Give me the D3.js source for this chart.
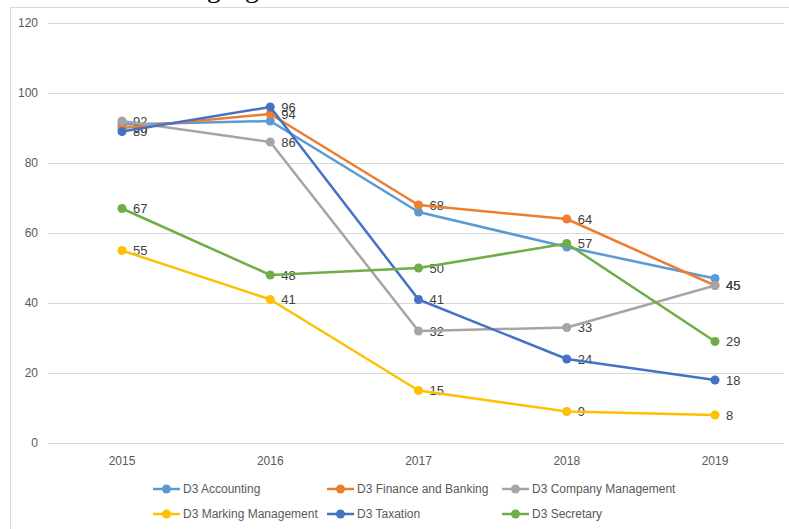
<!DOCTYPE html>
<html>
<head>
<meta charset="utf-8">
<script src="https://cdn.jsdelivr.net/npm/d3@7"></script>
<style>
  body { margin: 0; background: #fff; }
  svg { display: block; }
</style>
</head>
<body>
<script>
// chart values
var years = ["2015", "2016", "2017", "2018", "2019"];
var seriesNames = ["D3 Accounting", "D3 Finance and Banking", "D3 Company Management",
                   "D3 Marking Management", "D3 Taxation", "D3 Secretary"];
var accounting = [91, 92, 66, 56, 47];
var finance    = [90, 94, 68, 64, 45];
var company    = [92, 86, 32, 33, 45];
var marking    = [55, 41, 15, 9, 8];
var taxation   = [89, 96, 41, 24, 18];
var secretary  = [67, 48, 50, 57, 29];
var yTicks = [0, 20, 40, 60, 80, 100, 120];
// series that carry data labels in the original
var labelled = ["D3 Finance and Banking", "D3 Company Management",
                "D3 Marking Management", "D3 Taxation", "D3 Secretary"];

var colors = ["#5B9BD5", "#ED7D31", "#A5A5A5", "#FFC000", "#4472C4", "#70AD47"];
var allValues = [accounting, finance, company, marking, taxation, secretary];

var series = seriesNames.map(function(n, i) {
    return { name: n, color: colors[i], values: allValues[i] };
});

var W = 789, H = 529;
var font = "Liberation Sans, Arial, sans-serif";

var svg = d3.select("body")
            .append("svg")
            .attr("width", W)
            .attr("height", H);

// cut-off line of text above the chart (only its lower edge shows)
svg.append("text")
    .attr("x", 42)
    .attr("y", -3)
    .attr("font-family", "Liberation Serif, Times New Roman, serif")
    .attr("font-size", "28px")
    .attr("fill", "#000")
    .text("in the following figure:");

// chart frame
svg.append("rect")
    .attr("x", 10.5)
    .attr("y", 7.5)
    .attr("width", 790)
    .attr("height", 540)
    .style("fill", "#fff")
    .style("stroke", "#D9D9D9")
    .style("stroke-width", 1);

var x = d3.scalePoint()
    .domain(years)
    .range([122, 715]);

var y = d3.scaleLinear()
    .domain([0, 120])
    .range([443, 23]);

// gridlines
svg.selectAll("line.grid")
    .data(yTicks)
    .enter()
    .append("line")
    .attr("class", "grid")
    .attr("x1", 48)
    .attr("x2", 784)
    .attr("y1", function(d) { return Math.round(y(d)) + 0.5; })
    .attr("y2", function(d) { return Math.round(y(d)) + 0.5; })
    .style("stroke", "#D9D9D9")
    .style("stroke-width", 1);

// y labels
svg.selectAll("text.ylab")
    .data(yTicks)
    .enter()
    .append("text")
    .attr("class", "ylab")
    .attr("x", 38)
    .attr("y", function(d) { return y(d); })
    .attr("dy", "0.35em")
    .attr("text-anchor", "end")
    .attr("font-family", font)
    .attr("font-size", "12px")
    .attr("fill", "#595959")
    .text(function(d) { return d; });

// x labels
svg.selectAll("text.xlab")
    .data(years)
    .enter()
    .append("text")
    .attr("class", "xlab")
    .attr("x", function(d) { return x(d); })
    .attr("y", 461)
    .attr("dy", "0.35em")
    .attr("text-anchor", "middle")
    .attr("font-family", font)
    .attr("font-size", "12px")
    .attr("fill", "#595959")
    .text(function(d) { return d; });

// data labels (under the lines, as in the picture)
series.forEach(function(s) {
    if (labelled.indexOf(s.name) < 0) return;
    svg.append("g")
        .selectAll("text")
        .data(s.values)
        .enter()
        .append("text")
        .attr("x", function(d, i) { return x(years[i]) + 11; })
        .attr("y", function(d) { return y(d); })
        .attr("dy", "0.35em")
        .attr("font-family", font)
        .attr("font-size", "13px")
        .attr("fill", "#404040")
        .text(function(d) { return d; });
});

var line = d3.line()
    .x(function(d, i) { return x(years[i]); })
    .y(function(d) { return y(d); });

series.forEach(function(s) {
    var g = svg.append("g");
    g.append("path")
        .datum(s.values)
        .attr("d", line)
        .style("fill", "none")
        .style("stroke", s.color)
        .style("stroke-width", 2.5)
        .style("stroke-linejoin", "round");
    g.selectAll("circle")
        .data(s.values)
        .enter()
        .append("circle")
        .attr("cx", function(d, i) { return x(years[i]); })
        .attr("cy", function(d) { return y(d); })
        .attr("r", 4.5)
        .style("fill", s.color);
});

// legend, two rows of three
var legendX = [153, 327, 502];
var legendY = [489, 514];

var legend = svg.selectAll("g.legend")
    .data(series)
    .enter()
    .append("g")
    .attr("class", "legend")
    .attr("transform", function(d, i) {
        return "translate(" + legendX[i % 3] + "," + legendY[Math.floor(i / 3)] + ")";
    });

legend.append("line")
    .attr("x1", 0)
    .attr("x2", 27)
    .attr("y1", 0)
    .attr("y2", 0)
    .style("stroke", function(d) { return d.color; })
    .style("stroke-width", 2.5);

legend.append("circle")
    .attr("cx", 13.5)
    .attr("cy", 0)
    .attr("r", 4.5)
    .style("fill", function(d) { return d.color; });

legend.append("text")
    .attr("x", 30)
    .attr("y", 0)
    .attr("dy", "0.35em")
    .attr("font-family", font)
    .attr("font-size", "12px")
    .attr("fill", "#595959")
    .text(function(d) { return d.name; });
</script>
</body>
</html>
